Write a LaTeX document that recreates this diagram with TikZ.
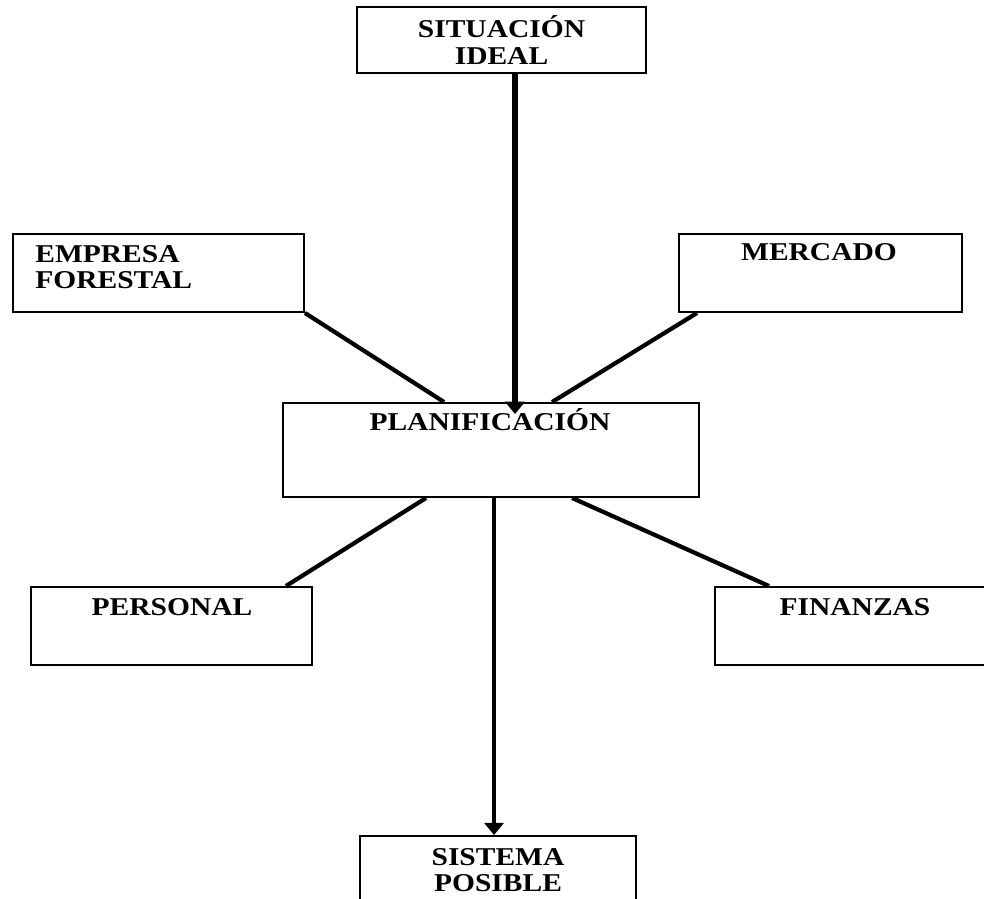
\documentclass[tikz,border=0pt]{standalone}
\usepackage{fontspec}
\setmainfont{Liberation Serif}[FakeStretch=1.15]
\usetikzlibrary{calc}
\usetikzlibrary{arrows.meta}
\tikzset{
  box/.style={draw, line width=1.1pt, inner sep=0pt},
  lbl/.style={font=\fontsize{14.6}{15}\selectfont\bfseries, align=center, inner sep=0pt},
  link/.style={line width=2.4pt},
  flow/.style={line width=3.2pt, -{Triangle[width=11pt,length=7pt]}}
}

\begin{document}
\begin{tikzpicture}[x=0.02cm, y=-0.02cm]
\useasboundingbox (0,0) rectangle (984,899);

\node[box, lbl, minimum width=5.78cm, minimum height=1.32cm] (sit) at (501.5,40) {SITUACIÓN\\IDEAL};
\node[box, minimum width=5.82cm, minimum height=1.56cm] (emp) at (158.5,273) {};
\node[lbl, align=left, anchor=north west] (emptxt) at (35,245) {EMPRESA\\FORESTAL};
\node[box, minimum width=5.66cm, minimum height=1.56cm] (merc) at (820.5,273) {};
\node[lbl, anchor=base] (merctxt) at (819,260) {MERCADO};

\node[box, minimum width=8.32cm, minimum height=1.88cm] (plan) at (491,450) {};
\node[lbl, anchor=base] (plantxt) at (490,430) {PLANIFICACIÓN};

\node[box, minimum width=5.62cm, minimum height=1.56cm] (pers) at (171.5,626) {};
\node[lbl, anchor=base] (perstxt) at (172,615) {PERSONAL};
\node[box, minimum width=5.6cm, minimum height=1.56cm] (fin) at (855,626) {};
\node[lbl, anchor=base] (fintxt) at (855,615) {FINANZAS};

\node[box, lbl, minimum width=5.52cm, minimum height=1.36cm] (sis) at (498,870) {SISTEMA\\POSIBLE};

\draw[link] (emp.south east) -- ($(plan.north west)+(162,0)$);
\draw[link] ($(merc.south west)+(19,0)$) -- ($(plan.north west)+(270,0)$);
\draw[link] ($(pers.north east)+(-27,0)$) -- ($(plan.south west)+(144,0)$);
\draw[link] ($(fin.north west)+(55,0)$) -- ($(plan.south west)+(290,0)$);

\draw[flow, line width=3.4pt] ($(sit.south)+(13.5,0)$) -- ($(plan.north)+(24,12)$);
\draw[flow, line width=2.8pt] ($(plan.south)+(3,0)$) -- ($(sis.north)+(-4,0)$);
\end{tikzpicture}
\end{document}
